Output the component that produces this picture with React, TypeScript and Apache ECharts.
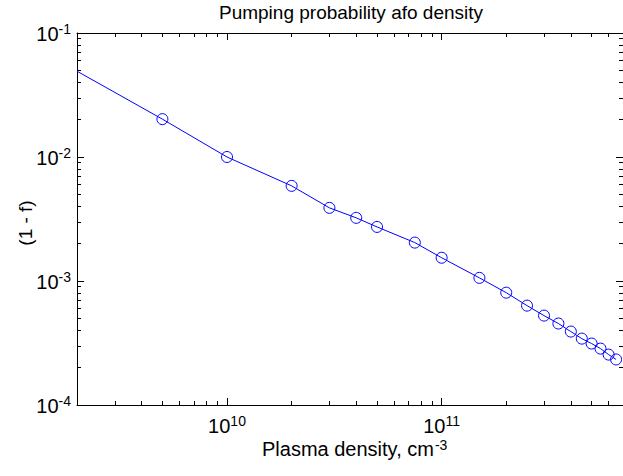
import React, { useEffect, useRef } from "react";
import * as echarts from "echarts";

// Data (density in cm^-3, value of 1 - f)
const densities = [2e9, 5e9, 1e10, 2e10, 3e10, 4e10, 5e10, 7.5e10, 1e11, 1.5e11, 2e11, 2.5e11, 3e11, 3.5e11, 4e11, 4.5e11, 5e11, 5.5e11, 6e11, 6.5e11];
const oneMinusF = [0.0492, 0.0202, 0.01, 0.00585, 0.00389, 0.00323, 0.00273, 0.00204, 0.00154, 0.00106, 0.000805, 0.000633, 0.000526, 0.000454, 0.000391, 0.000343, 0.000313, 0.000285, 0.000255, 0.000233];
const hasMarker = [false, true, true, true, true, true, true, true, true, true, true, true, true, true, true, true, true, true, true, true];

const xMajorExponents = [10, 11];
const yMajorExponents = [-4, -3, -2, -1];
const xRange = [2e9, 7e11];
const yRange = [1e-4, 1e-1];

const titleText = "Pumping probability afo density";
const xNameText = "Plasma density, cm";
const xNameSup = "-3";
const yNameText = "(1 - f)";

const FONT = "'Liberation Sans', Arial, Helvetica, sans-serif";
const BLUE = "#0000ff";

function minorLogs(lo: number, hi: number): number[] {
  const out: number[] = [];
  for (let n = Math.floor(Math.log10(lo)); n <= Math.ceil(Math.log10(hi)); n++) {
    for (let k = 2; k <= 9; k++) {
      const v = k * Math.pow(10, n);
      if (v > lo && v < hi) out.push(Math.log10(v));
    }
  }
  return out;
}

function measure(text: string, size: number): number {
  const ctx = document.createElement("canvas").getContext("2d");
  if (!ctx) return text.length * size * 0.5;
  ctx.font = `${size}px ${FONT}`;
  return ctx.measureText(text).width;
}

const rich = {
  b: { fontSize: 20, lineHeight: 24, fontFamily: FONT, color: "#000" },
  s: { fontSize: 14, lineHeight: 12, verticalAlign: "top", fontFamily: FONT, color: "#000" },
};

export default function App() {
  const ref = useRef<HTMLDivElement>(null);
  useEffect(() => {
    if (!ref.current) return;
    const chart = echarts.init(ref.current, undefined, { renderer: "svg" });
    const xmin = Math.log10(xRange[0]);
    const xmax = Math.log10(xRange[1]);
    const ymin = Math.log10(yRange[0]);
    const ymax = Math.log10(yRange[1]);
    const xMinor = minorLogs(xRange[0], xRange[1]);
    const yMinor = minorLogs(yRange[0], yRange[1]);
    const lineCol = { show: true, lineStyle: { color: "#000", width: 1 } };
    const fmt = (v: number) => `{b|10}{s|${Math.round(v)}}`;

    const xAxisBase = { type: "value", min: xmin, max: xmax, splitLine: { show: false } };
    const yAxisBase = { type: "value", min: ymin, max: ymax, splitLine: { show: false } };

    const xAxes = [
      {
        ...xAxisBase, position: "bottom", axisLine: lineCol,
        axisTick: { show: true, inside: true, length: 4, customValues: xMinor, lineStyle: { color: "#000" } },
        axisLabel: { show: true, customValues: xMajorExponents, formatter: fmt, rich, margin: 9 },
      },
      {
        ...xAxisBase, position: "bottom", axisLine: { show: false },
        axisTick: { show: true, inside: true, length: 7, customValues: xMajorExponents, lineStyle: { color: "#000" } },
        axisLabel: { show: false },
      },
      {
        ...xAxisBase, position: "top", axisLine: lineCol,
        axisTick: { show: true, inside: true, length: 4, customValues: xMinor, lineStyle: { color: "#000" } },
        axisLabel: { show: false },
      },
      {
        ...xAxisBase, position: "top", axisLine: { show: false },
        axisTick: { show: true, inside: true, length: 7, customValues: xMajorExponents, lineStyle: { color: "#000" } },
        axisLabel: { show: false },
      },
    ];
    const yAxes = [
      {
        ...yAxisBase, position: "left", axisLine: lineCol,
        axisTick: { show: true, inside: true, length: 4, customValues: yMinor, lineStyle: { color: "#000" } },
        axisLabel: { show: true, customValues: yMajorExponents, formatter: fmt, rich, margin: 6, padding: [2, 0, 0, 0] },
      },
      {
        ...yAxisBase, position: "left", axisLine: { show: false },
        axisTick: { show: true, inside: true, length: 7, customValues: yMajorExponents, lineStyle: { color: "#000" } },
        axisLabel: { show: false },
      },
      {
        ...yAxisBase, position: "right", axisLine: lineCol,
        axisTick: { show: true, inside: true, length: 4, customValues: yMinor, lineStyle: { color: "#000" } },
        axisLabel: { show: false },
      },
      {
        ...yAxisBase, position: "right", axisLine: { show: false },
        axisTick: { show: true, inside: true, length: 7, customValues: yMajorExponents, lineStyle: { color: "#000" } },
        axisLabel: { show: false },
      },
    ];

    const data = densities.map((d, i) => ({
      value: [Math.log10(d), Math.log10(oneMinusF[i])],
      symbol: hasMarker[i] ? "circle" : "none",
    }));

    const xNameLeft = 262;
    const xNameWidth = measure(xNameText, 20);

    chart.setOption({
      animation: false,
      backgroundColor: "#fff",
      textStyle: { fontFamily: FONT },
      grid: { left: 77, right: -6, top: 33, bottom: 71, containLabel: false },
      xAxis: xAxes,
      yAxis: yAxes,
      series: [
        {
          type: "line",
          xAxisIndex: 0,
          yAxisIndex: 0,
          data,
          symbolSize: 11,
          showAllSymbol: true,
          clip: true,
          lineStyle: { color: BLUE, width: 1 },
          itemStyle: { color: "rgba(0,0,0,0)", borderColor: BLUE, borderWidth: 1 },
          emphasis: { disabled: true },
        },
      ],
      graphic: [
        {
          type: "text", x: 351, y: 12,
          style: { text: titleText, fontSize: 19, fontFamily: FONT, fill: "#000", align: "center", verticalAlign: "middle" },
        },
        {
          type: "text", x: 25, y: 223, rotation: Math.PI / 2,
          style: { text: yNameText, fontSize: 19, fontFamily: FONT, fill: "#000", align: "center", verticalAlign: "middle" },
        },
        {
          type: "text", x: xNameLeft, y: 449,
          style: { text: xNameText, fontSize: 20, lineHeight: 20, fontFamily: FONT, fill: "#000", align: "left", verticalAlign: "middle" },
        },
        {
          type: "text", x: xNameLeft + xNameWidth + 1, y: 445,
          style: { text: xNameSup, fontSize: 14, lineHeight: 12, fontFamily: FONT, fill: "#000", align: "left", verticalAlign: "middle" },
        },
      ],
    });
    return () => chart.dispose();
  }, []);
  return <div ref={ref} style={{ position: "fixed", left: 0, top: 0, width: 623, height: 476 }} />;
}
